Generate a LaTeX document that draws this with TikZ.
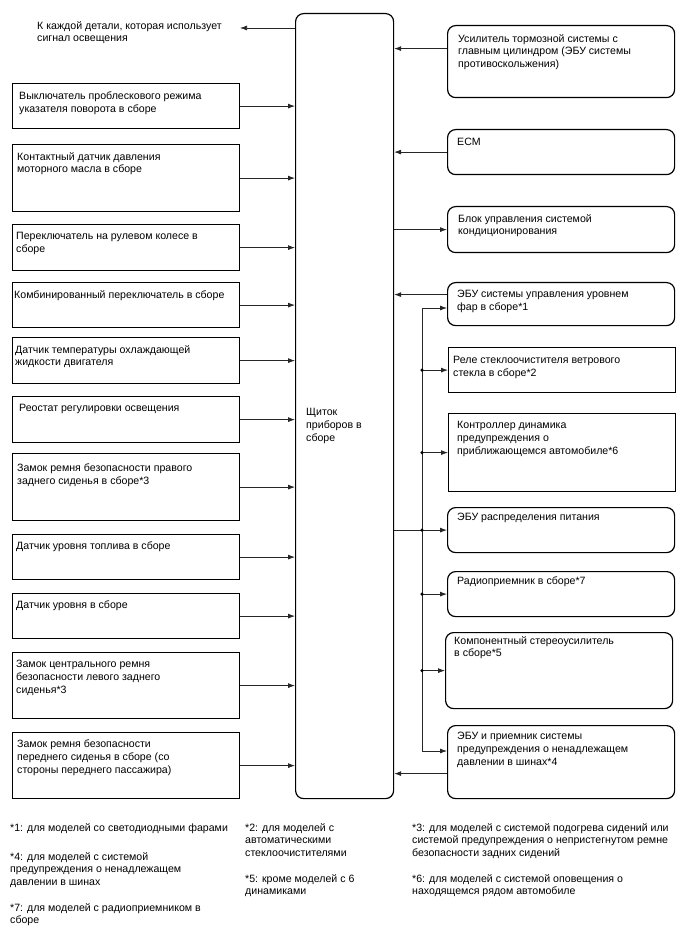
\documentclass[tikz,border=0pt]{standalone}
\usepackage{fontspec}
\setmainfont{Liberation Sans}
\usetikzlibrary{positioning,arrows.meta}

\begin{document}
\begin{tikzpicture}[x=1pt, y=-1pt,
  font=\fontsize{10.6}{12.8}\selectfont,
  blk/.style={draw, line width=1.2pt, anchor=north west, minimum width=227pt, inner sep=0pt},
  rblk/.style={blk, rounded corners=8pt},
  txt/.style={align=left, inner sep=0pt, anchor=north west},
  wire/.style={line width=0.75pt, draw=black!85},
  arr/.style={wire, -{Latex[length=7pt,width=5pt]}}]
  \useasboundingbox (0,0) rectangle (688,949);

  % Щиток приборов
  \node[blk, rounded corners=8pt, minimum width=98pt, minimum height=785pt] (main) at (295,13) {};
  \node[txt, below right=395pt and 11pt of main.north west] (maintxt) {Щиток\\приборов в\\сборе};

  % выход освещения
  \node[txt] (lamptxt) at (37,21) {К каждой детали, которая использует\\сигнал освещения};
  \coordinate (lampend) at (240,28);
  \draw[arr] (lampend -| main.west) -- (lampend);

  % левые блоки
  \node[blk, minimum height=45pt] (L1) at (12,83) {};
  \node[blk, minimum height=67pt] (L2) at (12,144) {};
  \node[blk, minimum height=46pt] (L3) at (12,224) {};
  \node[blk, minimum height=45pt] (L4) at (12,282) {};
  \node[blk, minimum height=46pt] (L5) at (12,337) {};
  \node[blk, minimum height=46pt] (L6) at (12,396) {};
  \node[blk, minimum height=67pt] (L7) at (12,453) {};
  \node[blk, minimum height=45pt] (L8) at (12,534) {};
  \node[blk, minimum height=45pt] (L9) at (12,593) {};
  \node[blk, minimum height=66pt] (L10) at (12,652) {};
  \node[blk, minimum height=66pt] (L11) at (12,732) {};

  \node[txt, below right=9pt and 7pt of L1.north west] {Выключатель проблескового режима\\указателя поворота в сборе};
  \node[txt, below right=8pt and 5pt of L2.north west] {Контактный датчик давления\\моторного масла в сборе};
  \node[txt, below right=8pt and 4pt of L3.north west] {Переключатель на рулевом колесе в\\сборе};
  \node[txt, below right=8pt and 2pt of L4.north west] {Комбинированный переключатель в сборе};
  \node[txt, below right=8pt and 3pt of L5.north west] {Датчик температуры охлаждающей\\жидкости двигателя};
  \node[txt, below right=8pt and 7pt of L6.north west] {Реостат регулировки освещения};
  \node[txt, below right=11pt and 5pt of L7.north west] {Замок ремня безопасности правого\\заднего сиденья в сборе*3};
  \node[txt, below right=8pt and 4pt of L8.north west] {Датчик уровня топлива в сборе};
  \node[txt, below right=8pt and 4pt of L9.north west] {Датчик уровня в сборе};
  \node[txt, below right=8pt and 4pt of L10.north west] {Замок центрального ремня\\безопасности левого заднего\\сиденья*3};
  \node[txt, below right=8pt and 5pt of L11.north west] {Замок ремня безопасности\\переднего сиденья в сборе (со\\стороны переднего пассажира)};

  \foreach \l in {L1,L2,L3,L4,L5,L6,L7,L8,L9,L10,L11}
    \draw[arr] (\l.east) -- (\l.east -| main.west);

  % правые блоки
  \node[rblk, minimum height=72pt] (R1) at (447,25) {};
  \node[rblk, minimum height=45pt] (R2) at (447,129) {};
  \node[rblk, minimum height=46pt] (R3) at (447,206) {};
  \node[rblk, minimum height=43pt] (R4) at (447,282) {};
  \node[blk, minimum height=45pt] (R5) at (448,347) {};
  \node[blk, minimum height=78pt] (R6) at (448,413) {};
  \node[rblk, minimum height=45pt] (R7) at (447,507) {};
  \node[rblk, minimum height=45pt] (R8) at (447,571) {};
  \node[rblk, minimum height=76pt] (R9) at (445,632) {};
  \node[rblk, minimum height=73pt] (R10) at (447,725) {};

  \node[txt, below right=9pt and 11pt of R1.north west] {Усилитель тормозной системы с\\главным цилиндром (ЭБУ системы\\противоскольжения)};
  \node[txt, below right=9pt and 10pt of R2.north west] {ECM};
  \node[txt, below right=8pt and 11pt of R3.north west] {Блок управления системой\\кондиционирования};
  \node[txt, below right=8pt and 10pt of R4.north west] {ЭБУ системы управления уровнем\\фар в сборе*1};
  \node[txt, below right=9pt and 5pt of R5.north west] {Реле стеклоочистителя ветрового\\стекла в сборе*2};
  \node[txt, below right=8pt and 9pt of R6.north west] {Контроллер динамика\\предупреждения о\\приближающемся автомобиле*6};
  \node[txt, below right=6pt and 10pt of R7.north west] {ЭБУ распределения питания};
  \node[txt, below right=6pt and 10pt of R8.north west] {Радиоприемник в сборе*7};
  \node[txt, below right=4pt and 9pt of R9.north west] {Компонентный стереоусилитель\\в сборе*5};
  \node[txt, below right=7pt and 10pt of R10.north west] {ЭБУ и приемник системы\\предупреждения о ненадлежащем\\давлении в шинах*4};

  % связи с правыми блоками
  \draw[arr] ([yshift=13pt]R1.west) -- ([yshift=13pt]R1.west -| main.east);
  \draw[arr] (R2.west) -- (R2.west -| main.east);
  \draw[arr] (R3.west -| main.east) -- (R3.west);
  \draw[arr] ([yshift=9.5pt]R4.west) -- ([yshift=9.5pt]R4.west -| main.east);
  \draw[arr] ([yshift=-11.5pt]R10.west) -- ([yshift=-11.5pt]R10.west -| main.east);
  \draw[arr] (R7.west -| main.east) -- (R7.west);

  % общая шина
  \coordinate (bt) at (422,308);
  \coordinate (bb) at (422,751);
  \draw[wire] (bt) -- (bb);
  \draw[arr] (bt) -- (bt -| R4.west);
  \draw[arr] (bb) -- (bb -| R10.west);
  \foreach \r in {R5,R6,R8,R9}
    \draw[arr] (bt |- \r.west) -- (\r.west);
  \foreach \r in {R5,R6,R7,R8,R9}
    \fill (bt |- \r.west) circle (1.7);

  % примечания
  \node[txt] (n1) at (10,823) {*1: для моделей со светодиодными фарами};
  \node[txt] (n2) at (245,823) {*2: для моделей с\\автоматическими\\стеклоочистителями};
  \node[txt] (n3) at (412,823) {*3: для моделей с системой подогрева сидений или\\системой предупреждения о непристегнутом ремне\\безопасности задних сидений};
  \node[txt] (n4) at (10,852) {*4: для моделей с системой\\предупреждения о ненадлежащем\\давлении в шинах};
  \node[txt] (n5) at (245,874) {*5: кроме моделей с 6\\динамиками};
  \node[txt] (n6) at (412,874) {*6: для моделей с системой оповещения о\\находящемся рядом автомобиле};
  \node[txt] (n7) at (10,903) {*7: для моделей с радиоприемником в\\сборе};
\end{tikzpicture}
\end{document}
